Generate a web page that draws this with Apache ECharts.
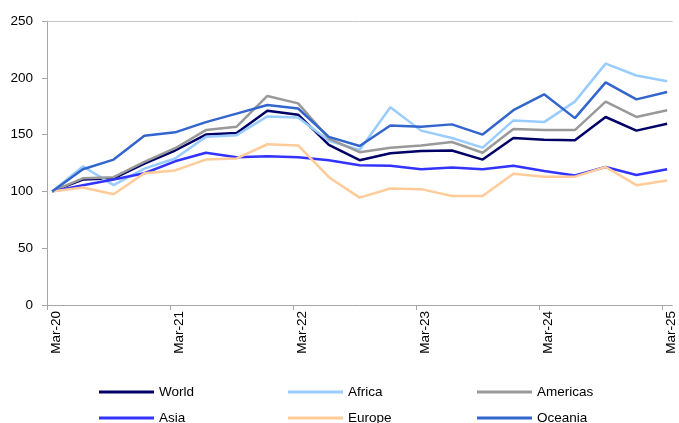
<!DOCTYPE html>
<html>
<head>
<meta charset="utf-8">
<script src="https://cdn.jsdelivr.net/npm/echarts@6/dist/echarts.min.js"></script>
<style>
html,body{margin:0;padding:0;background:#fff;}
#chart{width:679px;height:423px;}
</style>
</head>
<body>
<div id="chart"></div>
<script>
// Quarterly observations, Mar-20 .. Mar-25
const categories = ['Mar-20','Jun-20','Sep-20','Dec-20','Mar-21','Jun-21','Sep-21','Dec-21',
  'Mar-22','Jun-22','Sep-22','Dec-22','Mar-23','Jun-23','Sep-23','Dec-23',
  'Mar-24','Jun-24','Sep-24','Dec-24','Mar-25'];
const tickLabels = ['Mar-20','Mar-21','Mar-22','Mar-23','Mar-24','Mar-25'];
const seriesNames = ['World','Africa','Americas','Asia','Europe','Oceania'];
const world    = [100,110.5,111.5,124.5,136,150,151.5,171,167.5,141,127.5,133.5,135.5,136,128,147,145.5,145,165.5,153.5,159.5];
const africa   = [100,122,105.5,120,129,148,149.5,166,165,144.5,136.5,174,153.5,147,138.5,162.5,161,179,212.5,202,197];
const americas = [100,111.5,112.5,126,138,154,157,184,177.5,146.5,134.5,138.5,140.5,143.5,134,155,154,154,179,165.5,171.5];
const asia     = [100,105.5,110.5,116,126.5,134,130,131,130,127.5,123,122.5,119.5,121,119.5,122.5,118,114,121.5,114.5,119.5];
const europe   = [100,103.5,97.5,116,118.5,128,129,141.5,140.5,112.5,94.5,102.5,102,96,96,115.5,113,113,121.5,105.5,109.5];
const oceania  = [100,119.5,128,149,152,161,168.5,176,173,148,140,158,157,159,150,171.5,185.5,164.5,196,181,187.5];
const seriesValues = [world, africa, americas, asia, europe, oceania];
const colors = ['#000066','#99ccff','#999999','#3333ff','#ffcc99','#3366cc'];

function hasFont(name){
  const c = document.createElement('canvas').getContext('2d');
  const t = 'Mar-20 World Americas Oceania 0123456789';
  let diff = false;
  ['monospace','serif'].forEach(function(fb){
    c.font = '16px ' + fb; const a = c.measureText(t).width;
    c.font = '16px "' + name + '", ' + fb; const b = c.measureText(t).width;
    if (Math.abs(a - b) > 0.5) diff = true;
  });
  return diff;
}
let FONT = '"Liberation Sans", Arial, sans-serif', FS = 13.5;
if (hasFont('Liberation Sans Narrow')) { FONT = '"Liberation Sans Narrow"'; FS = 16; }
else if (hasFont('Arial Narrow')) { FONT = '"Arial Narrow"'; FS = 16; }

// month index of each quarter (Mar-20 = 0), placed at the middle of its month
const monthIndex = categories.map(function(c, i){ return i * 3 + 0.5; });

const chart = echarts.init(document.getElementById('chart'), null, {renderer:'canvas'});
const axisGray = '#a6a6a6';
const series = seriesNames.map(function(n, k){
  return {
    name: n, type: 'line', symbol: 'none', smooth: false,
    data: seriesValues[k].map(function(v, i){ return [monthIndex[i], v]; }),
    lineStyle: {width: 2.5, color: colors[k]},
    itemStyle: {color: colors[k]},
    z: 2 + k
  };
});
function legendItem(name, left, top){
  return {
    orient: 'horizontal', left: left, top: top, padding: 0,
    itemWidth: 55, itemHeight: 3, itemGap: 0,
    icon: 'rect', data: [name],
    textStyle: {fontFamily: FONT, fontSize: FS, color: '#000', lineHeight: 16},
    selectedMode: false
  };
}
const legendLefts = [99, 288, 477];
const legendTops = [384, 410];
chart.setOption({
  animation: false,
  backgroundColor: '#fff',
  color: colors,
  grid: {left: 47, right: -1, top: 21, bottom: 118, containLabel: false},
  xAxis: [{
    type: 'value', min: 0, max: 61, interval: 12, position: 'bottom',
    axisLine: {show: true, lineStyle: {color: axisGray, width: 1}},
    axisTick: {show: true, length: 5, inside: false, lineStyle: {color: axisGray}},
    splitLine: {show: false},
    axisLabel: {
      rotate: 90, margin: 6, fontFamily: FONT, fontSize: FS, color: '#000',
      verticalAlign: 'top', lineHeight: 16, padding: [1, 0, 0, 0], showMaxLabel: false,
      formatter: function(v){ const k = v / 12; return (Number.isInteger(k) && tickLabels[k]) ? tickLabels[k] : ''; }
    }
  }, {
    type: 'value', min: 0, max: 61, position: 'top',
    axisLine: {show: true, lineStyle: {color: '#c8c8c8', width: 1}},
    axisTick: {show: false}, axisLabel: {show: false}, splitLine: {show: false}
  }],
  yAxis: {
    type: 'value', min: 0, max: 250, interval: 50,
    axisLine: {show: true, lineStyle: {color: axisGray, width: 1}},
    axisTick: {show: true, length: 5, lineStyle: {color: axisGray}},
    splitLine: {show: false},
    axisLabel: {margin: 14, fontFamily: FONT, fontSize: FS, color: '#000'}
  },
  legend: seriesNames.map(function(n, k){
    return legendItem(n, legendLefts[k % 3], legendTops[Math.floor(k / 3)]);
  }),
  series: series
});
</script>
</body>
</html>
